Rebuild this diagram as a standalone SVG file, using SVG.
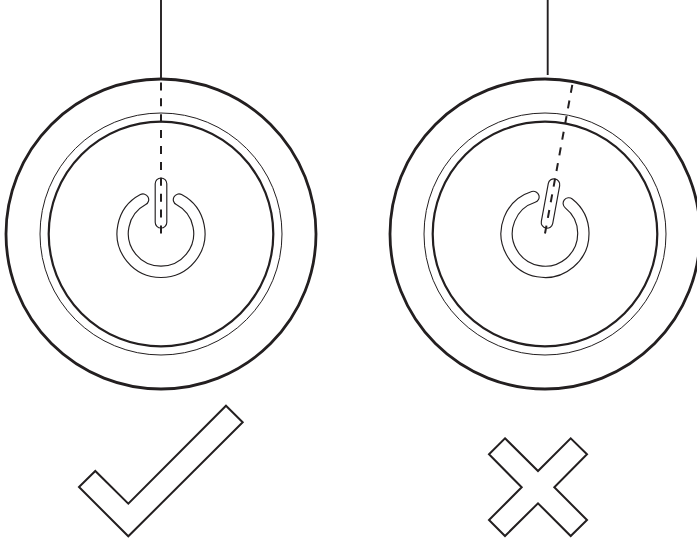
<svg xmlns="http://www.w3.org/2000/svg" width="697" height="539" viewBox="0 0 697 539">
<defs>
<style>
.outer{fill:none;stroke:#231f20;stroke-width:2.8}
.mid{fill:none;stroke:#231f20;stroke-width:1}
.inner{fill:none;stroke:#231f20;stroke-width:2.2}
.thin{fill:none;stroke:#231f20;stroke-width:1.15}
.solid{fill:none;stroke:#231f20;stroke-width:1.9}
.dash{fill:none;stroke:#231f20;stroke-width:2;stroke-dasharray:8 7.9}
.mark{fill:#fff;stroke:#231f20;stroke-width:2;stroke-linejoin:miter}
</style>
<g id="power">
<path class="thin" d="M-20.6-38.9A44 44 0 1 0 20.6-38.9A5.65 5.65 0 0 0 15.3-28.9A32.7 32.7 0 1 1-15.3-28.9A5.65 5.65 0 0 0-20.6-38.9Z"/>
<rect class="thin" x="-5.8" y="-55.5" width="11.6" height="50" rx="5.8"/>
</g>
</defs>
<rect width="697" height="539" fill="#fff"/>
<g id="good-dial">
<circle class="outer" cx="161" cy="234" r="155"/>
<circle class="mid" cx="161" cy="234" r="121"/>
<circle class="inner" cx="161" cy="234" r="112.3"/>
<use href="#power" x="161" y="233.5"/>
</g>
<g id="bad-dial">
<circle class="outer" cx="545" cy="234" r="155"/>
<circle class="mid" cx="545" cy="234" r="121"/>
<circle class="inner" cx="545" cy="234" r="112.3"/>
<use href="#power" transform="translate(545 233.5) rotate(10.4)"/>
</g>
<g id="connectors">
<line class="solid" x1="161" y1="0" x2="161" y2="78"/>
<line class="dash" x1="161" y1="233.5" x2="161" y2="78"/>
<line class="solid" x1="547.7" y1="0" x2="547.7" y2="75"/>
<line class="dash" x1="545" y1="233.5" x2="573" y2="81"/>
</g>
<g id="check">
<polygon class="mark" points="226,405.7 242.7,422.3 128.3,536.3 79,487 95.3,471 128.3,503.7"/>
</g>
<g id="cross">
<polygon class="mark" points="505,438.3 538,471 570.7,438.3 587,454.3 554.3,487.3 587,520 570.7,536 538,503.3 505,536 489,520 521.7,487.3 489,454.3"/>
</g>
</svg>
